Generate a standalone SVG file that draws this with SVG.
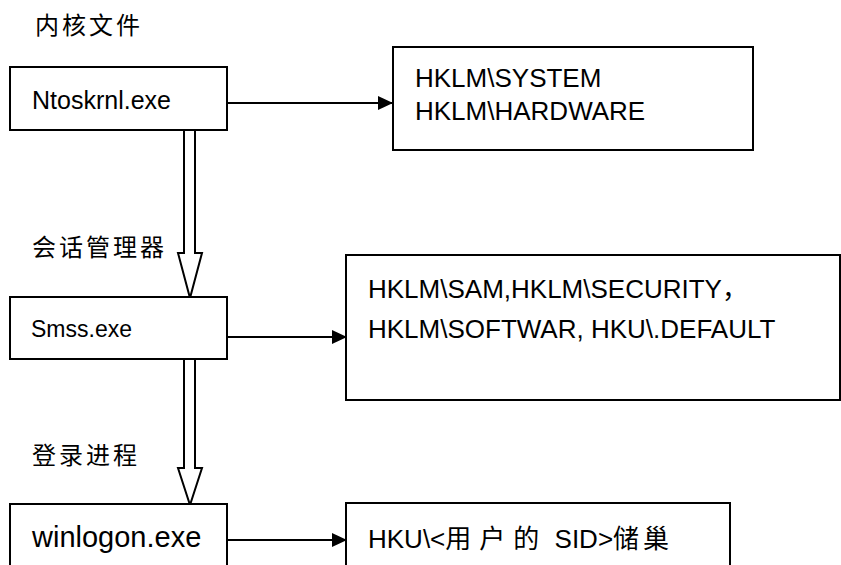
<svg xmlns="http://www.w3.org/2000/svg" width="841" height="565" viewBox="0 0 841 565">
<style>
.box{fill:#fff;stroke:#000;stroke-width:2}
.t{font-family:"Liberation Sans","Noto Sans CJK SC",sans-serif;fill:#000}
.cj{font-family:"Noto Sans CJK SC",sans-serif;font-size:24px;letter-spacing:3px;fill:#000}
.ln{stroke:#000;stroke-width:2;fill:none}
.hol{stroke:#000;stroke-width:2;fill:#fff}
</style>
<defs>
<marker id="ah" markerUnits="userSpaceOnUse" markerWidth="16" markerHeight="16" viewBox="0 0 16 16" refX="15" refY="8" orient="auto">
<path d="M0,1 L15,8 L0,15 Z" fill="#000"/>
</marker>
</defs>
<text class="cj" x="35" y="34">内核文件</text>
<text class="cj" x="32" y="256">会话管理器</text>
<text class="cj" x="32" y="464">登录进程</text>
<g id="connectors">
<path class="ln" d="M227,103 H393" marker-end="url(#ah)"/>
<path class="ln" d="M227,337 H347" marker-end="url(#ah)"/>
<path class="ln" d="M227,540 H347" marker-end="url(#ah)"/>
<path class="hol" d="M184,130 V253 H178 L190,298 L202,253 H195 V130"/>
<path class="hol" d="M184,359 V468 H178 L190,505 L202,468 H195 V359"/>
</g>
<g id="ntoskrnl">
<rect class="box" x="10" y="67" width="217" height="63"/>
<text class="t" x="32" y="109" font-size="25">Ntoskrnl.exe</text>
</g>
<g id="hklm-system">
<rect class="box" x="393" y="47" width="360" height="103"/>
<text class="t" x="415" y="87" font-size="26">HKLM\SYSTEM</text>
<text class="t" x="415" y="120" font-size="26">HKLM\HARDWARE</text>
</g>
<g id="smss">
<rect class="box" x="10" y="297" width="217" height="62"/>
<text class="t" x="31" y="337" font-size="23">Smss.exe</text>
</g>
<g id="hklm-sam">
<rect class="box" x="346" y="255" width="494" height="145"/>
<text class="t" x="368" y="298" font-size="26">HKLM\SAM,HKLM\SECURITY，</text>
<text class="t" x="368" y="338" font-size="26">HKLM\SOFTWAR, HKU\.DEFAULT</text>
</g>
<g id="winlogon">
<rect class="box" x="10" y="504" width="217" height="70"/>
<text class="t" x="32" y="547" font-size="29">winlogon.exe</text>
</g>
<g id="hku">
<rect class="box" x="346" y="503" width="384" height="70"/>
<text class="t" x="368" y="548" font-size="26">HKU\&lt;<tspan letter-spacing="8">用户的</tspan> SID&gt;<tspan letter-spacing="4">储巢</tspan></text>
</g>
</svg>
